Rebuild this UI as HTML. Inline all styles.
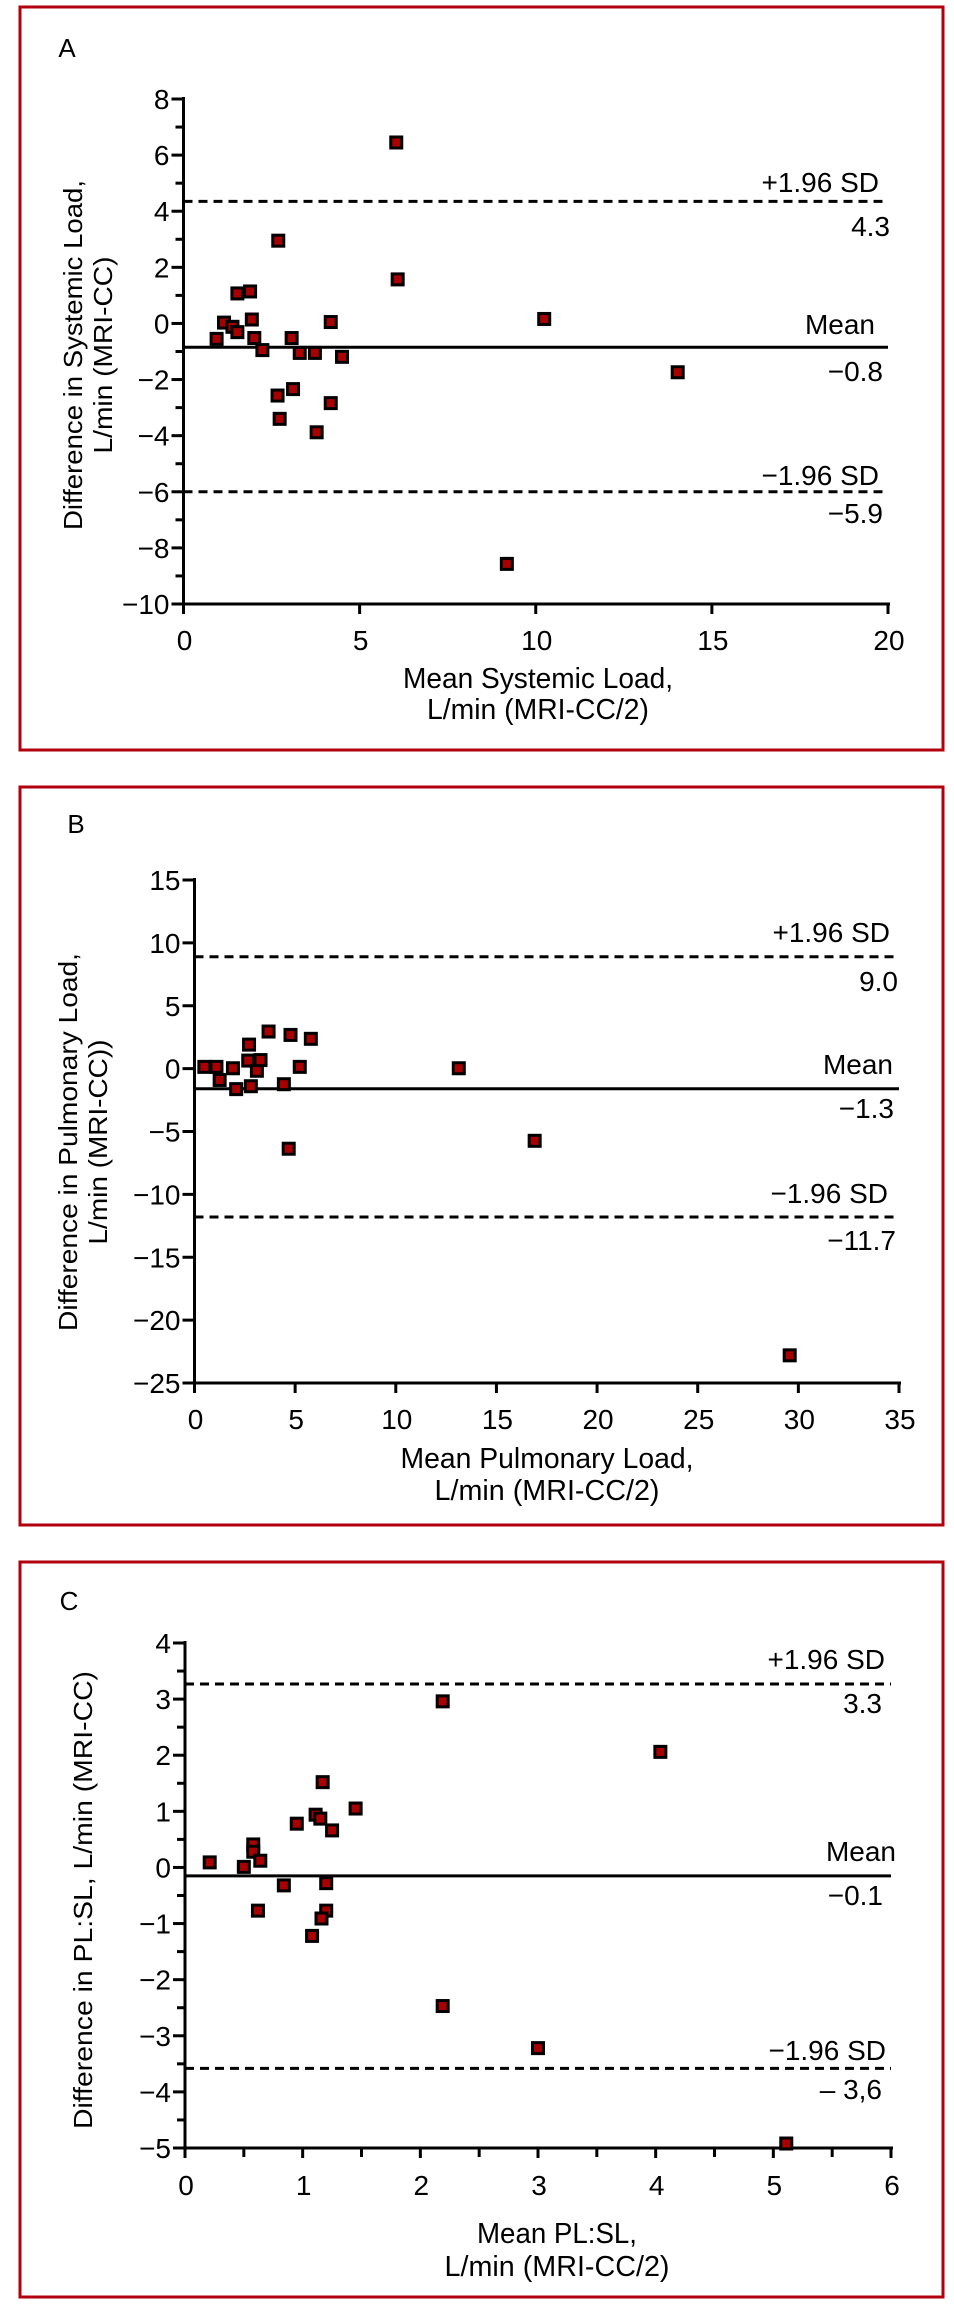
<!DOCTYPE html>
<html><head><meta charset="utf-8"><style>
html,body{margin:0;padding:0;background:#fff;width:954px;height:2306px;overflow:hidden}
svg{display:block}
text{font-family:"Liberation Sans",sans-serif;fill:#000}
</style></head><body>
<svg id="fig" xmlns="http://www.w3.org/2000/svg" width="954" height="2306" viewBox="0 0 954 2306"></svg>
<script>
// Panel A data
const aX = [6.04,2.69,6.08,1.53,1.89,1.15,1.94,1.39,1.53,0.94,2.01,2.24,3.07,3.30,3.73,4.18,4.50,2.67,3.11,2.73,4.18,3.78,10.24,14.03,9.18];
const aY = [6.45,2.95,1.57,1.07,1.14,0.03,0.14,-0.12,-0.31,-0.55,-0.52,-0.95,-0.52,-1.05,-1.05,0.05,-1.19,-2.57,-2.34,-3.40,-2.84,-3.88,0.16,-1.74,-8.57];
const aXTicks = [0,5,10,15,20];
const aYTicks = [8,6,4,2,0,-2,-4,-6,-8,-10];
const aLines = [4.35,-0.85,-6.0];
const aLineLabels = ["+1.96 SD","4.3","Mean","\u22120.8","\u22121.96 SD","\u22125.9"];
// Panel B data
const bX = [0.49,1.09,1.25,1.91,2.07,2.71,2.67,2.8,3.1,3.28,3.68,4.77,5.78,5.23,4.44,4.68,13.13,16.9,29.57];
const bY = [0.14,0.14,-0.9,0.03,-1.63,1.91,0.64,-1.4,-0.17,0.68,2.95,2.68,2.37,0.14,-1.24,-6.37,0.03,-5.74,-22.8];
const bXTicks = [0,5,10,15,20,25,30,35];
const bYTicks = [15,10,5,0,-5,-10,-15,-20,-25];
const bLines = [8.9,-1.6,-11.8];
const bLineLabels = ["+1.96 SD","9.0","Mean","\u22121.3","\u22121.96 SD","\u221211.7"];
// Panel C data
const cX = [0.21,0.50,0.58,0.58,0.64,0.62,0.84,0.95,1.08,1.11,1.15,1.17,1.25,1.20,1.20,1.16,1.45,2.19,2.19,3.00,4.04,5.11];
const cY = [0.09,0.01,0.41,0.28,0.12,-0.77,-0.32,0.78,-1.22,0.94,0.87,1.52,0.66,-0.28,-0.77,-0.91,1.05,2.96,-2.47,-3.22,2.06,-4.92];
const cXTicks = [0,1,2,3,4,5,6];
const cYTicks = [4,3,2,1,0,-1,-2,-3,-4,-5];
const cLines = [3.27,-0.15,-3.58];
const cLineLabels = ["+1.96 SD","3.3","Mean","\u22120.1","\u22121.96 SD","\u2013 3,6"];

const NS="http://www.w3.org/2000/svg";
const svg=document.getElementById('fig');
function mk(tag,attrs,parent,txt){const e=document.createElementNS(NS,tag);for(const k in attrs)e.setAttribute(k,attrs[k]);if(txt!==undefined)e.textContent=txt;(parent||svg).appendChild(e);return e;}
function fmt(v){return v<0?"\u2212"+Math.abs(v):String(v);}

function panel(P){
  const g=mk('g',{});
  
  
  const fr=mk('rect',{x:P.box[0],y:P.box[1],width:P.box[2],height:P.box[3],fill:'none',stroke:'#b3000f','stroke-width':3},g);
  
  
  const lt=mk('text',{x:P.letter[0],y:P.letter[1],'font-size':26,'text-anchor':'middle'},g,P.letterText);
  
  
  const xs=v=>P.x0+(v-P.xmin)/(P.xmax-P.xmin)*(P.x1-P.x0);
  const ys=v=>P.y0+(P.ymax-v)/(P.ymax-P.ymin)*(P.y1-P.y0);
  // axes
  const ya=mk('line',{x1:P.x0,y1:ys(P.ymax)-2,x2:P.x0,y2:P.y1+10,stroke:'#000','stroke-width':3},g);
  
  
  const xa=mk('line',{x1:P.x0-12,y1:P.y1,x2:P.x1+2,y2:P.y1,stroke:'#000','stroke-width':3},g);
  
  
  // y ticks
  P.yTicks.forEach(v=>{
    const y=ys(v);
    mk('line',{x1:P.x0-12,y1:y,x2:P.x0,y2:y,stroke:'#000','stroke-width':3},g);
    const t=mk('text',{x:P.x0-14,y:y+10,'font-size':28,'text-anchor':'end'},g,fmt(v));
    
    
  });
  for(let i=0;i<P.yTicks.length-1;i++){
    const y=ys((P.yTicks[i]+P.yTicks[i+1])/2);
    if(P.yMinor) mk('line',{x1:P.x0-8,y1:y,x2:P.x0,y2:y,stroke:'#000','stroke-width':3},g);
  }
  P.xTicks.forEach(v=>{
    const x=xs(v);
    mk('line',{x1:x,y1:P.y1,x2:x,y2:P.y1+10,stroke:'#000','stroke-width':3},g);
    const t=mk('text',{x:x+1,y:P.y1+P.xLabDy,'font-size':28,'text-anchor':'middle'},g,String(v));
    
    
  });
  if(P.xMinor){for(let i=0;i<P.xTicks.length-1;i++){const x=xs((P.xTicks[i]+P.xTicks[i+1])/2);mk('line',{x1:x,y1:P.y1,x2:x,y2:P.y1+9,stroke:'#000','stroke-width':3},g);}}
  // reference lines
  P.lines.forEach((v,i)=>{
    const l=mk('line',{x1:P.x0,y1:ys(v),x2:P.x1,y2:ys(v),stroke:'#000','stroke-width':3},g);
    if(i!==1) l.setAttribute('stroke-dasharray','9,6');
    
    
  });
  P.lineLabels.forEach((s,i)=>{
    const t=mk('text',{x:P.labX[i],y:P.labY[i],'font-size':28,'text-anchor':'end'},g,s);
    
    
  });
  // points
  P.xs.forEach((v,i)=>{
    const cx=xs(v),cy=ys(P.ys[i]);
    const r=mk('rect',{x:cx-5.5,y:cy-5.5,width:11,height:11,fill:'#a80000',stroke:'#000','stroke-width':3},g);
    
    
  });
  // titles
  P.xTitle.forEach((s,i)=>{
    const t=mk('text',{x:P.xTitleX,y:P.xTitleY[i],'font-size':29,'text-anchor':'middle',textLength:P.xTitleLen[i],lengthAdjust:'spacingAndGlyphs'},g,s);
    
    
  });
  P.yTitle.forEach((s,i)=>{
    const t=mk('text',{x:0,y:0,'font-size':26,'text-anchor':'middle',textLength:P.yTitleLen[i],lengthAdjust:'spacingAndGlyphs',transform:`translate(${P.yTitleX[i]},${P.yTitleCy}) rotate(-90)`},g,s);
    
    
  });
}

panel({name:'panel-a',box:[20,7,923,743],letter:[67,57],letterText:'A',
  x0:183.5,x1:888,xmin:0,xmax:20,y0:99,y1:604,ymin:-10,ymax:8,
  xs:aX,ys:aY,xTicks:aXTicks,yTicks:aYTicks,yMinor:true,xMinor:false,xLabDy:46,
  lines:aLines,lineLabels:aLineLabels,
  labX:[879,890,875,883,879,883],labY:[192,236,334,381,485,523],
  xTitle:["Mean Systemic Load,","L/min (MRI-CC/2)"],xTitleX:538,xTitleY:[688,719],xTitleLen:[270,222],
  yTitle:["Difference in Systemic Load,","L/min (MRI-CC)"],yTitleX:[82,112],yTitleCy:355,yTitleLen:[350,197]});

panel({name:'panel-b',box:[20,787,923,738],letter:[76,833],letterText:'B',
  x0:194.5,x1:899,xmin:0,xmax:35,y0:880,y1:1383,ymin:-25,ymax:15,
  xs:bX,ys:bY,xTicks:bXTicks,yTicks:bYTicks,yMinor:false,xMinor:false,xLabDy:46,
  lines:bLines,lineLabels:bLineLabels,
  labX:[890,898,893,894,888,896],labY:[942,991,1074,1118,1203,1250],
  xTitle:["Mean Pulmonary Load,","L/min (MRI-CC/2)"],xTitleX:547,xTitleY:[1468,1500],xTitleLen:[293,225],
  yTitle:["Difference in Pulmonary Load,","L/min (MRI-CC))"],yTitleX:[77,107],yTitleCy:1142,yTitleLen:[378,205]});

panel({name:'panel-c',box:[20,1562,923,735],letter:[69,1610],letterText:'C',
  x0:185,x1:891,xmin:0,xmax:6,y0:1643,y1:2148,ymin:-5,ymax:4,
  xs:cX,ys:cY,xTicks:cXTicks,yTicks:cYTicks,yMinor:true,xMinor:true,xLabDy:47,
  lines:cLines,lineLabels:cLineLabels,
  labX:[885,882,896,883,886,882],labY:[1669,1713,1861,1905,2060,2099],
  xTitle:["Mean PL:SL,","L/min (MRI-CC/2)"],xTitleX:557,xTitleY:[2243,2276],xTitleLen:[160,225],
  yTitle:["Difference in PL:SL, L/min (MRI-CC)"],yTitleX:[92],yTitleCy:1900,yTitleLen:[458]});
</script>
</body></html>
